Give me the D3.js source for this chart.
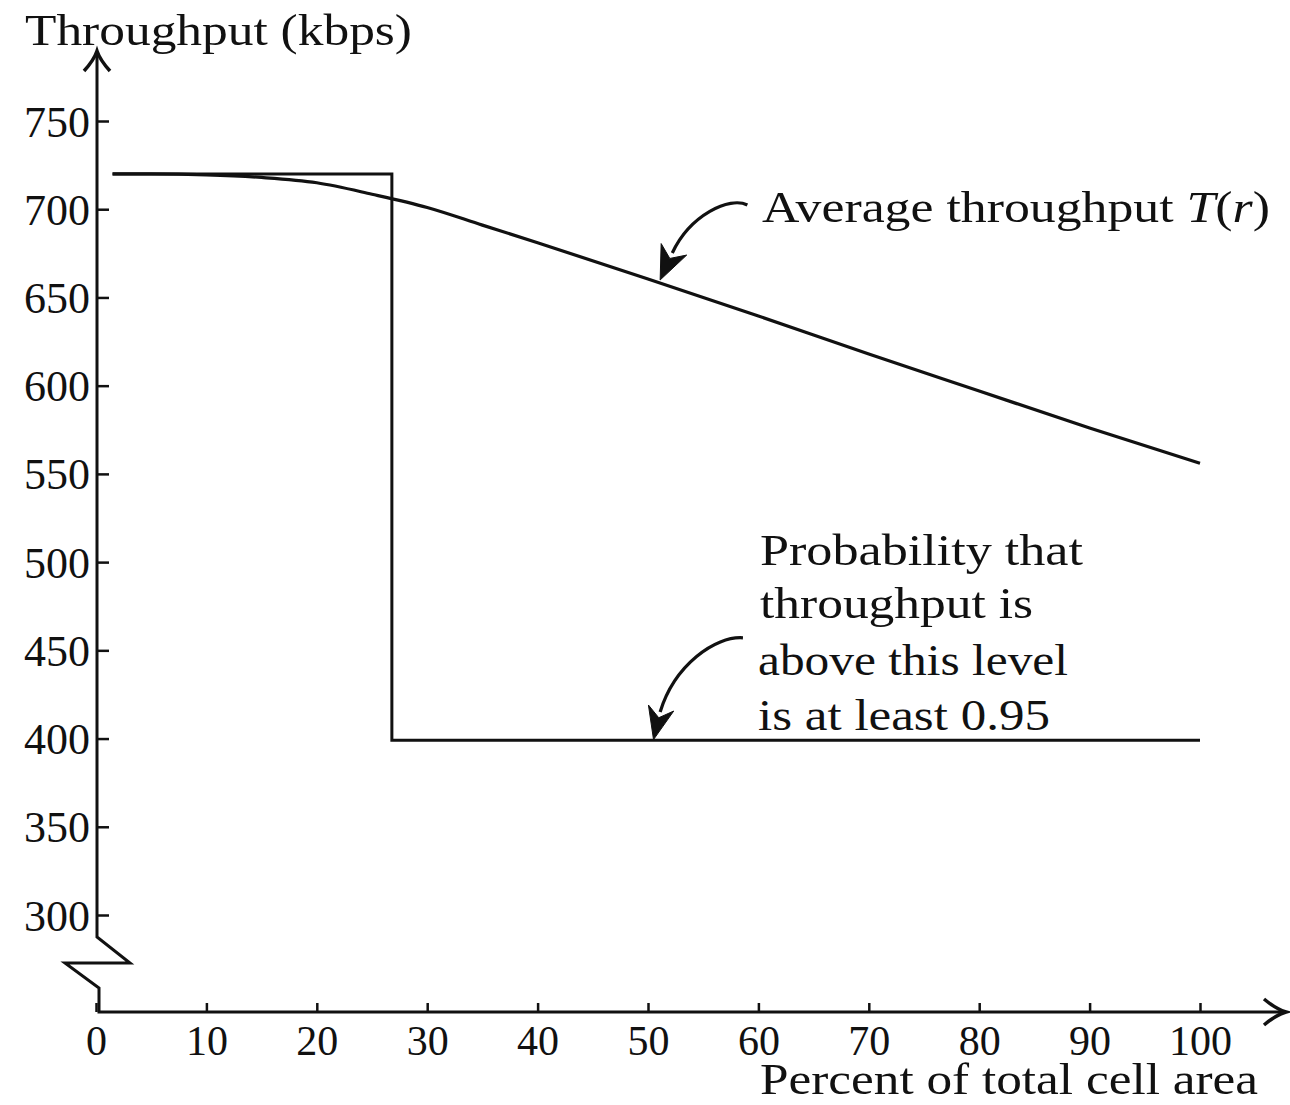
<!DOCTYPE html>
<html>
<head>
<meta charset="utf-8">
<script src="https://cdn.jsdelivr.net/npm/d3@7"></script>
<style>
  body { margin: 0; background: #fff; }
  text { font-family: "Liberation Serif", "Times New Roman", serif; fill: #111; }
</style>
</head>
<body>
<div id="chart"></div>
<script>
// chart data
var xTicks = [0, 10, 20, 30, 40, 50, 60, 70, 80, 90, 100];
var yTicks = [300, 350, 400, 450, 500, 550, 600, 650, 700, 750];

// average throughput T(r) curve
var avgX = [1.5, 5, 10, 15, 20, 25, 30, 35, 40, 50, 60, 70, 80, 90, 100];
var avgY = [720, 720, 719.5, 718, 715, 708.5, 701, 691, 681, 660.5, 639.5, 618, 597, 576, 556];

// 95% guaranteed throughput (step)
var stepX = [1.5, 26.8, 100];
var stepY = [720, 399, 399];

// annotation arrows, in data units: start, ctrl1, ctrl2, base of head, tip
var arrowAvg = [[59.0, 702.4], [57.4, 707.5], [53.8, 696.7], [52.2, 675.2], [51.1, 659.9]];
var arrowProb = [[58.6, 457.1], [56.1, 458.2], [52.4, 441.8], [51.1, 415.1], [50.5, 399.4]];

var svgWidth = 1290;
var svgHeight = 1105;

var svg = d3.select("#chart")
  .append("svg")
  .attr("width", svgWidth)
  .attr("height", svgHeight);

svg.append("rect").attr("width", svgWidth).attr("height", svgHeight).attr("fill", "#fff");

var x = d3.scaleLinear().domain([0, 100]).range([96, 1200]);
var y = d3.scaleLinear().domain([300, 750]).range([915, 121]);

var x0 = x(0);
var axisY = 1012;
var ink = "#111";

// x axis ticks + labels
var xAxis = svg.append("g")
  .attr("transform", `translate(0, ${axisY})`)
  .call(d3.axisBottom(x).tickValues(xTicks).tickSize(-9).tickPadding(0).tickFormat(d3.format("d")));
xAxis.select(".domain").remove();
xAxis.selectAll(".tick line").attr("stroke", ink).attr("stroke-width", 2.5);
xAxis.selectAll(".tick text")
  .attr("dy", null)
  .attr("y", 43)
  .attr("font-size", 42)
  .attr("font-family", "Liberation Serif")
  .attr("fill", ink);

// y axis ticks + labels (ticks point right, labels left)
var yAxis = svg.append("g")
  .attr("transform", `translate(${x0 + 1}, 0)`)
  .call(d3.axisLeft(y).tickValues(yTicks).tickSize(-12).tickPadding(7));
yAxis.select(".domain").remove();
yAxis.selectAll(".tick line").attr("stroke", ink).attr("stroke-width", 2.5);
yAxis.selectAll(".tick text")
  .attr("dy", null)
  .attr("y", 15)
  .attr("font-size", 44)
  .attr("font-family", "Liberation Serif")
  .attr("fill", ink);

// axis lines with the break
var axisPath = d3.path();
axisPath.moveTo(x0 + 1, 52);
axisPath.lineTo(x0 + 1, 937);
axisPath.lineTo(x0 + 34, 963);
axisPath.lineTo(x0 - 31, 963);
axisPath.lineTo(x0 + 3, 988);
axisPath.lineTo(x0 + 3, axisY);
axisPath.lineTo(1284, axisY);
svg.append("path")
  .attr("d", axisPath.toString())
  .attr("fill", "none")
  .attr("stroke", ink)
  .attr("stroke-width", 3)
  .attr("stroke-linejoin", "miter");

// axis arrowheads (open)
svg.append("path")
  .attr("d", `M${x0 - 12},71 Q${x0 - 2},60 ${x0 + 1},51 Q${x0 + 4},60 ${x0 + 14},71`)
  .attr("fill", "none").attr("stroke", ink).attr("stroke-width", 3.5);
svg.append("path")
  .attr("d", `M1264,${axisY - 13} Q1276,${axisY - 3} 1286,${axisY} Q1276,${axisY + 3} 1264,${axisY + 13}`)
  .attr("fill", "none").attr("stroke", ink).attr("stroke-width", 3.5);

// series
var stepData = stepX.map((d, i) => [d, stepY[i]]);
var avgData = avgX.map((d, i) => [d, avgY[i]]);

svg.append("path")
  .datum(stepData)
  .attr("d", d3.line().x(d => x(d[0])).y(d => y(d[1])).curve(d3.curveStepAfter))
  .attr("fill", "none")
  .attr("stroke", ink)
  .attr("stroke-width", 3);

svg.append("path")
  .datum(avgData)
  .attr("d", d3.line().x(d => x(d[0])).y(d => y(d[1])).curve(d3.curveMonotoneX))
  .attr("fill", "none")
  .attr("stroke", ink)
  .attr("stroke-width", 3.2);

// curved annotation arrows
function drawArrow(pts, halfW) {
  var p = pts.map(d => [x(d[0]), y(d[1])]);
  svg.append("path")
    .attr("d", `M${p[0]} C${p[1]} ${p[2]} ${p[3]}`)
    .attr("fill", "none")
    .attr("stroke", ink)
    .attr("stroke-width", 3.2);
  var base = p[3], tip = p[4];
  var dx = tip[0] - base[0], dy = tip[1] - base[1];
  var len = Math.sqrt(dx * dx + dy * dy);
  var ux = dx / len, uy = dy / len;
  var nx = -uy, ny = ux;
  var back = [base[0] - ux * 4, base[1] - uy * 4];
  var notch = [base[0] + ux * 6, base[1] + uy * 6];
  svg.append("path")
    .attr("d", `M${tip} L${back[0] + nx * halfW},${back[1] + ny * halfW} L${notch} L${back[0] - nx * halfW},${back[1] - ny * halfW} Z`)
    .attr("fill", ink)
    .attr("stroke", ink)
    .attr("stroke-width", 1);
}
drawArrow(arrowAvg, 14);
drawArrow(arrowProb, 13);

// labels
function label(xp, yp, len, parts) {
  var t = svg.append("text")
    .attr("x", xp)
    .attr("y", yp)
    .attr("font-size", 45)
    .attr("textLength", len)
    .attr("lengthAdjust", "spacingAndGlyphs");
  parts.forEach(function(p) {
    var s = t.append("tspan").text(p[0]);
    if (p[1]) s.attr("font-style", "italic");
  });
  return t;
}

label(25, 45, 387, [["Throughput (kbps)"]]);
label(762, 222, 508, [["Average throughput "], ["T", true], ["("], ["r", true], [")"]]);
label(760, 565, 323, [["Probability that"]]);
label(760, 618, 273, [["throughput is"]]);
label(758, 675, 310, [["above this level"]]);
label(758, 730, 292, [["is at least 0.95"]]);
label(760, 1094, 498, [["Percent of total cell area"]]);
</script>
</body>
</html>
